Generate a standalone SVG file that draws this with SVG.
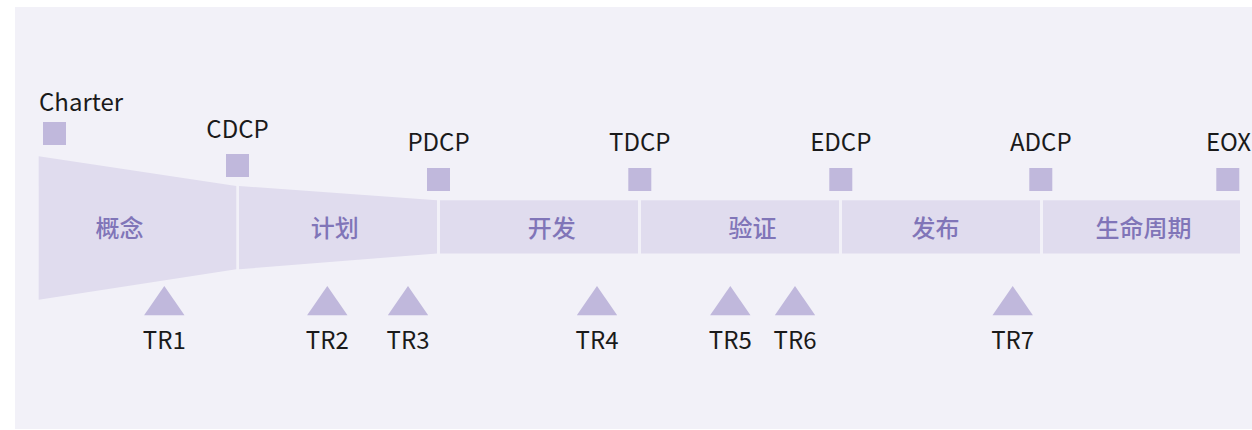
<svg xmlns="http://www.w3.org/2000/svg" width="1252" height="430" viewBox="0 0 1252 430">
<style>
.bg{fill:#f2f1f8}
.seg{fill:#e0dcee}
.mk{fill:#c0b8dc}
.lbl{font-family:"Noto Sans CJK SC","Noto Sans",sans-serif;font-size:24px;fill:#1a1a1a;text-anchor:middle}
.ph{font-family:"Noto Sans CJK SC",sans-serif;font-size:24px;font-weight:500;fill:#8075b8;text-anchor:middle}
</style>
<rect class="bg" x="15" y="7" width="1237" height="422"/>
<g id="phases">
<g id="p1"><polygon class="seg" points="38.7,156.3 236.3,186 236.3,269.3 38.7,299.7"/><text class="ph" x="119.5" y="237">概念</text></g>
<g id="p2"><polygon class="seg" points="239,186 437,200.3 437,253.5 239,269.3"/><text class="ph" x="334.7" y="237">计划</text></g>
<g id="p3"><rect class="seg" x="440" y="200.3" width="198" height="53.2"/><text class="ph" x="551.7" y="237">开发</text></g>
<g id="p4"><rect class="seg" x="641" y="200.3" width="198" height="53.2"/><text class="ph" x="752.5" y="237">验证</text></g>
<g id="p5"><rect class="seg" x="842" y="200.3" width="198" height="53.2"/><text class="ph" x="935.5" y="237">发布</text></g>
<g id="p6"><rect class="seg" x="1043" y="200.3" width="197" height="53.2"/><text class="ph" x="1143.4" y="237">生命周期</text></g>
</g>
<g id="decision-points">
<g id="charter"><rect class="mk" x="43" y="122" width="23" height="23"/><text class="lbl" x="39" y="110.5" style="text-anchor:start">Charter</text></g>
<g id="cdcp"><rect class="mk" x="226" y="154" width="23" height="23"/><text class="lbl" x="237.5" y="138.3">CDCP</text></g>
<g id="pdcp"><rect class="mk" x="427" y="168" width="23" height="23"/><text class="lbl" x="438.5" y="151.2">PDCP</text></g>
<g id="tdcp"><rect class="mk" x="628.3" y="168" width="23" height="23"/><text class="lbl" x="639.8" y="151.2">TDCP</text></g>
<g id="edcp"><rect class="mk" x="829.3" y="168" width="23" height="23"/><text class="lbl" x="840.8" y="151.2">EDCP</text></g>
<g id="adcp"><rect class="mk" x="1029.3" y="168" width="23" height="23"/><text class="lbl" x="1040.8" y="151.2">ADCP</text></g>
<g id="eox"><rect class="mk" x="1216.3" y="168" width="23" height="23"/><text class="lbl" x="1228.5" y="151.2">EOX</text></g>
</g>
<g id="tech-reviews">
<g id="tr1"><polygon class="mk" points="164.3,286 184.5,315.3 144.1,315.3"/><text class="lbl" x="164.3" y="349">TR1</text></g>
<g id="tr2"><polygon class="mk" points="327.3,286 347.5,315.3 307.1,315.3"/><text class="lbl" x="327.3" y="349">TR2</text></g>
<g id="tr3"><polygon class="mk" points="408,286 428.2,315.3 387.8,315.3"/><text class="lbl" x="408" y="349">TR3</text></g>
<g id="tr4"><polygon class="mk" points="597,286 617.2,315.3 576.8,315.3"/><text class="lbl" x="597" y="349">TR4</text></g>
<g id="tr5"><polygon class="mk" points="730.3,286 750.5,315.3 710.1,315.3"/><text class="lbl" x="730.3" y="349">TR5</text></g>
<g id="tr6"><polygon class="mk" points="795,286 815.2,315.3 774.8,315.3"/><text class="lbl" x="795" y="349">TR6</text></g>
<g id="tr7"><polygon class="mk" points="1012.7,286 1032.9,315.3 992.5,315.3"/><text class="lbl" x="1012.7" y="349">TR7</text></g>
</g>
<g id="connectors"/>
</svg>
